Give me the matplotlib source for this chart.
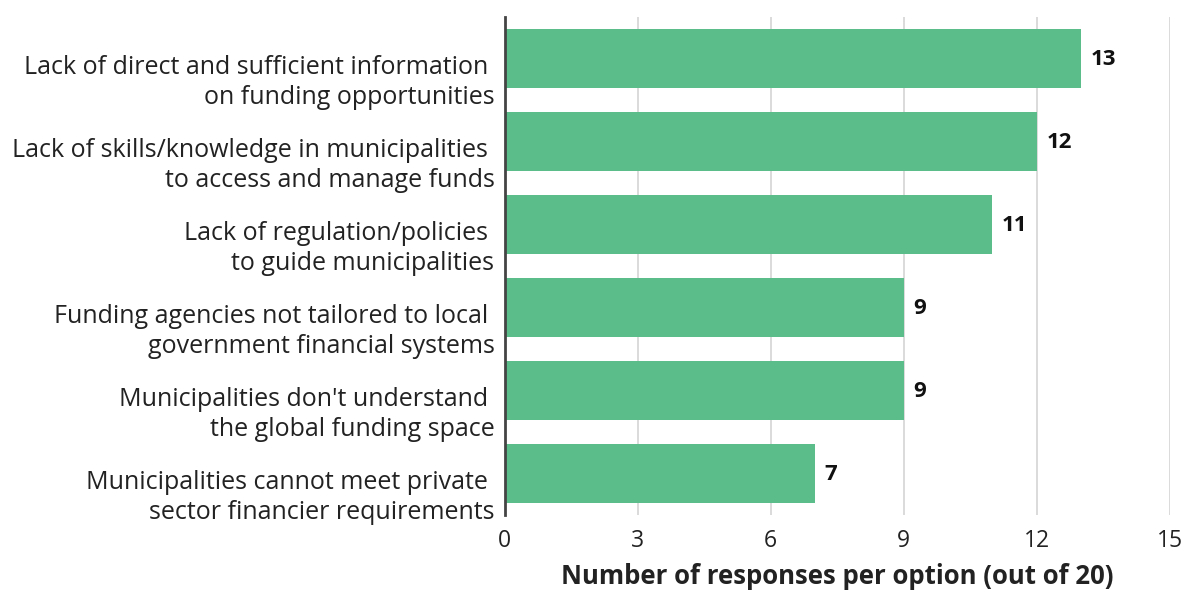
import matplotlib
matplotlib.use("Agg")
import matplotlib.pyplot as plt
import matplotlib.transforms as mtransforms

plt.rcParams['font.family'] = ['Open Sans', 'DejaVu Sans']

# Barriers to accessing climate finance, survey responses
barriers = [
    "Lack of direct and sufficient information \non funding opportunities",
    "Lack of skills/knowledge in municipalities \nto access and manage funds",
    "Lack of regulation/policies \nto guide municipalities",
    "Funding agencies not tailored to local \ngovernment financial systems",
    "Municipalities don't understand \nthe global funding space",
    "Municipalities cannot meet private \nsector financier requirements",
]
responses = [13, 12, 11, 9, 9, 7]
xticks = [0, 3, 6, 9, 12, 15]

fig = plt.figure(figsize=(11.85, 5.9), dpi=100)
ax = fig.add_axes([0.426, 0.127, 0.561, 0.844])

pos = list(range(len(barriers)))
ax.barh(pos, responses, height=0.72, color="#5bbd8a", zorder=2)

for y, v in zip(pos, responses):
    ax.text(v + 0.22, y + 0.01, str(v), va="center", ha="left",
            fontsize=16, fontweight="bold", color="#111111")

ax.set_xlim(0, 15)
ax.set_ylim(5.5, -0.5)
ax.set_xticks(xticks)
ax.set_xticklabels([str(t) for t in xticks], fontsize=16.5, color="#222222")
ax.set_yticks(pos)
ax.set_yticklabels(barriers, fontsize=18, color="#222222", linespacing=1.3)
ax.tick_params(axis="both", length=0)
ax.tick_params(axis="y", pad=7.5)
ax.tick_params(axis="x", pad=10)

# category labels sit a little below the bar centres
shift = mtransforms.ScaledTranslation(0, -0.18, fig.dpi_scale_trans)
for lbl in ax.get_yticklabels():
    lbl.set_transform(lbl.get_transform() + shift)

ax.grid(axis="x", color="#d4d4d4", linewidth=1.2, zorder=0)
for s in ["top", "right", "bottom"]:
    ax.spines[s].set_visible(False)
ax.spines["left"].set_color("#444444")
ax.spines["left"].set_linewidth(2)
ax.spines["left"].set_zorder(3)

ax.set_xlabel("Number of responses per option (out of 20)", fontsize=18.5,
              fontweight="bold", color="#222222", labelpad=7)

fig.savefig("out.png", dpi=100)
